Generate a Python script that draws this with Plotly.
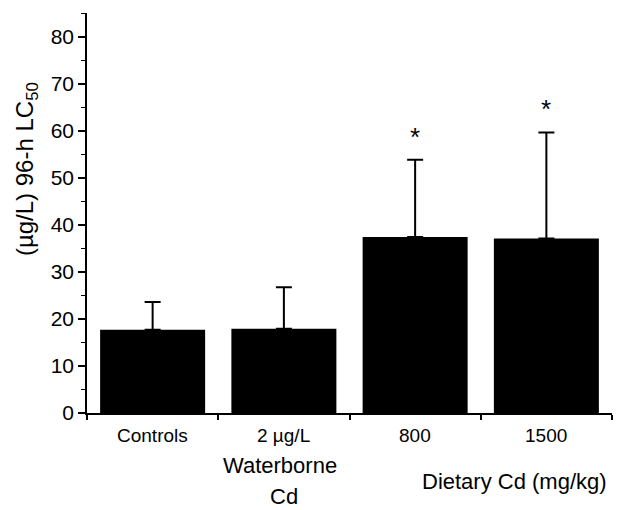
import plotly.graph_objects as go

categories = ["Controls", "2 µg/L", "800", "1500"]
lc50_mean = [17.7, 17.9, 37.4, 37.1]
lc50_err_upper = [5.9, 8.8, 16.4, 22.5]
significance = ["", "", "*", "*"]
asterisk_y = [None, None, 58.6, 64.6]
group_label_lines = ["Waterborne", "Cd", "Dietary Cd (mg/kg)"]
group_label_x = [1.47, 1.5, 3.26]
group_label_shift = [-52, -83, -68]

xpos = [i + 0.5 for i in range(len(categories))]
FONT = "Liberation Sans, Arial, sans-serif"

fig = go.Figure()
fig.add_trace(go.Bar(
    x=xpos, y=lc50_mean, width=0.8,
    marker=dict(color="black", line=dict(width=0)),
    error_y=dict(type="data", symmetric=False, array=lc50_err_upper,
                 arrayminus=[0] * len(categories), color="black",
                 thickness=2, width=8),
    showlegend=False, hoverinfo="skip",
))

for x, s, y in zip(xpos, significance, asterisk_y):
    if s:
        fig.add_annotation(x=x, y=y, text=s, showarrow=False, xref="x", yref="y",
                           xanchor="center", yanchor="middle",
                           font=dict(size=26, family=FONT, color="black"))

for x, cat in zip(xpos, categories):
    fig.add_annotation(x=x, y=0, xref="x", yref="paper", yshift=-22, text=cat,
                       xanchor="center", yanchor="middle", showarrow=False,
                       font=dict(size=19, family=FONT, color="black"))

for text, x, sh in zip(group_label_lines, group_label_x, group_label_shift):
    fig.add_annotation(x=x, y=0, xref="x", yref="paper", yshift=sh, text=text,
                       xanchor="center", yanchor="middle", showarrow=False,
                       font=dict(size=22, family=FONT, color="black"))

fig.add_annotation(x=-0.116, y=0.61, xref="paper", yref="paper", textangle=-90,
                   xanchor="center", yanchor="middle",
                   text="(µg/L) 96-h LC<sub>50</sub>", showarrow=False,
                   font=dict(size=24, family=FONT, color="black"))

fig.update_layout(
    width=633, height=510,
    margin=dict(l=79, r=29, t=5, b=105),
    plot_bgcolor="white", paper_bgcolor="white",
    font=dict(family=FONT, color="black"),
    xaxis=dict(range=[0, 4], tickvals=[0, 1, 2, 3, 4], showticklabels=False,
               ticks="outside", ticklen=5, tickwidth=1.5, tickcolor="black",
               showline=True, linecolor="black", linewidth=1.5, automargin=False,
               showgrid=False, zeroline=False, fixedrange=True),
    yaxis=dict(range=[0, 85], tickvals=[0, 10, 20, 30, 40, 50, 60, 70, 80],
               ticks="outside", ticklen=7, tickwidth=1.5, tickcolor="black",
               minor=dict(tickvals=[5, 15, 25, 35, 45, 55, 65, 75, 85], ticks="outside",
                          ticklen=4, tickwidth=1.2, tickcolor="black"),
               showline=True, linecolor="black", linewidth=1.5, automargin=False,
               showgrid=False, zeroline=False,
               tickfont=dict(size=21, family=FONT, color="black"),
               fixedrange=True),
)

fig.write_html("out.html")
